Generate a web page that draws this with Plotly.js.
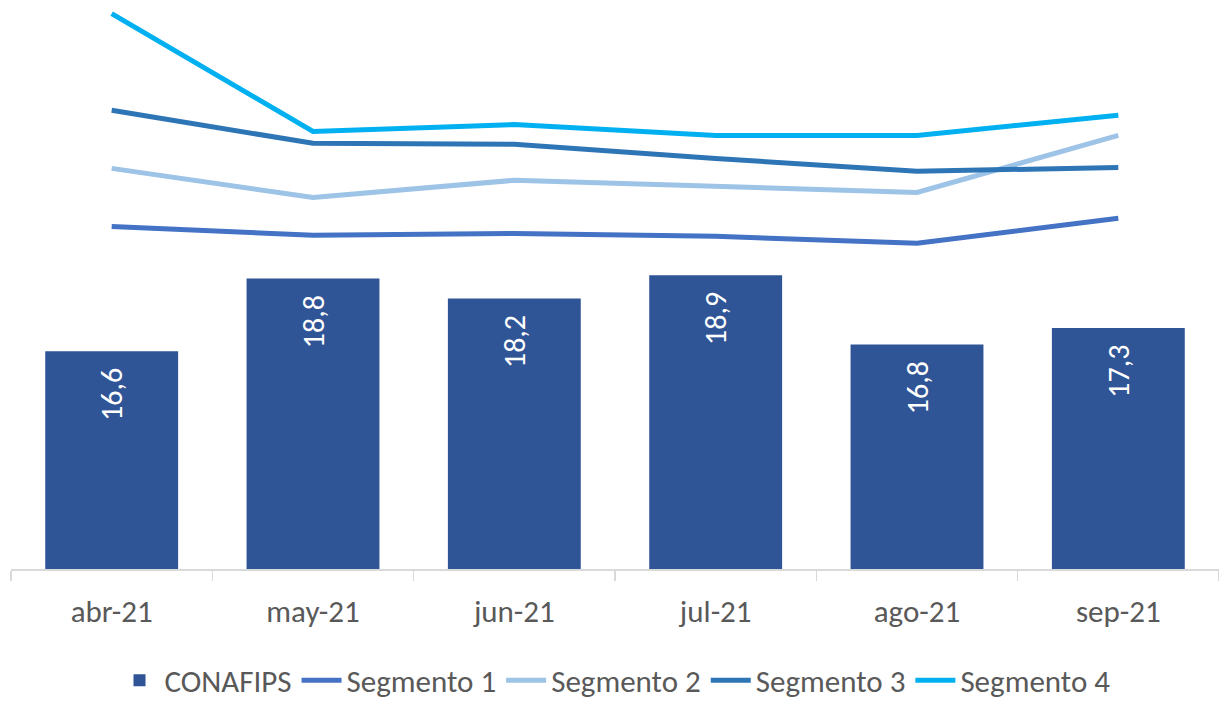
<!DOCTYPE html>
<html>
<head>
<meta charset="utf-8">
<script src="https://cdn.plot.ly/plotly-3.0.1.min.js"></script>
<style>html,body{margin:0;padding:0;background:#fff}#chart{width:1219px;height:703px}</style>
</head>
<body>
<div id="chart"></div>
<script>
const categories = ["abr-21", "may-21", "jun-21", "jul-21", "ago-21", "sep-21"];
const conafips = [16.6, 18.8, 18.2, 18.9, 16.8, 17.3];
const segmento1 = [20.38, 20.11, 20.17, 20.08, 19.87, 20.63];
const segmento2 = [22.14, 21.26, 21.78, 21.60, 21.41, 23.14];
const segmento3 = [23.90, 22.90, 22.87, 22.44, 22.05, 22.17];
const segmento4 = [26.83, 23.26, 23.47, 23.14, 23.14, 23.75];

const font = "Carlito, 'Open Sans', 'Noto Sans', sans-serif";
const lineW = 5;

const traces = [
  {type: "bar", name: "CONAFIPS", x: categories, y: conafips,
   marker: {color: "#2F5597"},
   text: conafips.map(v => v.toFixed(1).replace(".", ",") + "\u00A0\u00A0"), texttemplate: "%{text}",
   textposition: "inside", insidetextanchor: "end", textangle: -90,
   textfont: {color: "#ffffff", size: 30, family: font}, cliponaxis: false, hoverinfo: "skip"},
  {type: "scatter", mode: "lines", name: "Segmento 1", x: categories, y: segmento1,
   line: {color: "#4472C4", width: lineW}},
  {type: "scatter", mode: "lines", name: "Segmento 2", x: categories, y: segmento2,
   line: {color: "#9DC3E6", width: lineW}},
  {type: "scatter", mode: "lines", name: "Segmento 3", x: categories, y: segmento3,
   line: {color: "#2E75B6", width: lineW}},
  {type: "scatter", mode: "lines", name: "Segmento 4", x: categories, y: segmento4,
   line: {color: "#00B0F0", width: lineW}}
];

const layout = {
  width: 1219, height: 703,
  margin: {l: 11, r: 0, t: 8, b: 134, autoexpand: false},
  paper_bgcolor: "#ffffff", plot_bgcolor: "#ffffff",
  separators: ",.",
  bargap: 0.34,
  showlegend: true,
  legend: {orientation: "h", x: 0.5, xanchor: "center", y: -0.199, yanchor: "middle",
           font: {family: font, size: 31, color: "#595959"}, itemwidth: 40, tracegroupgap: 0},
  xaxis: {type: "category", showgrid: false, showline: true, linecolor: "#d9d9d9", linewidth: 1.5,
          ticks: "outside", tickson: "boundaries", ticklen: 10, tickcolor: "#d9d9d9", tickwidth: 1.5,
          ticklabelstandoff: 14, automargin: false,
          tickfont: {family: font, size: 31, color: "#595959"}, zeroline: false},
  yaxis: {range: [10, 27], visible: false, showgrid: false, zeroline: false},
  font: {family: font}
};

Plotly.newPlot("chart", traces, layout, {displayModeBar: false, staticPlot: true});
</script>
</body>
</html>
